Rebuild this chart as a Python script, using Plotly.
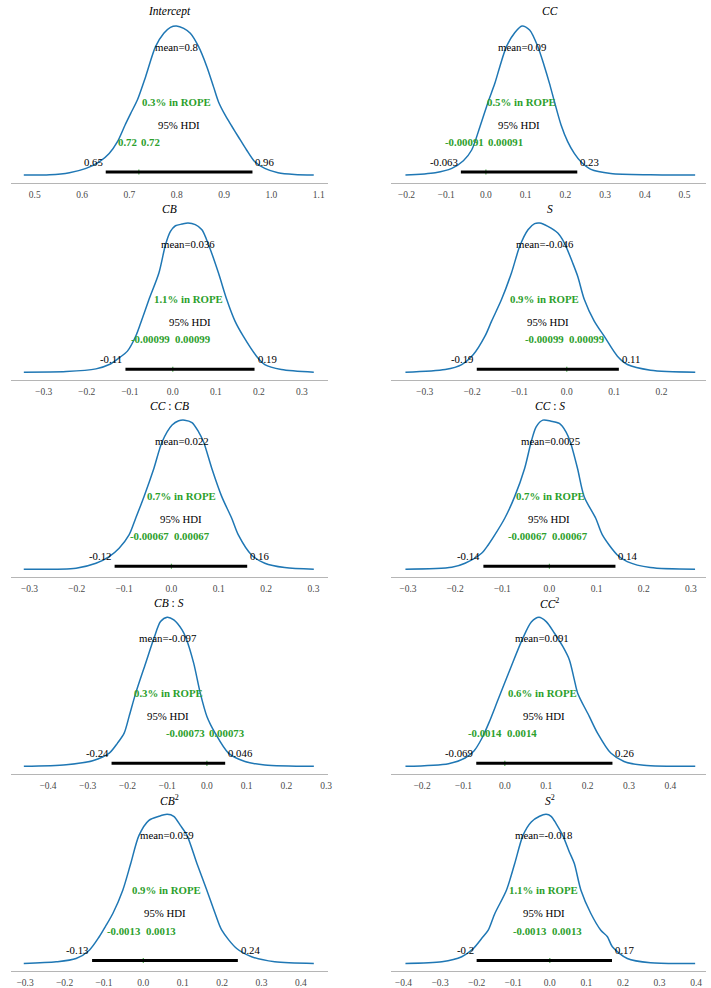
import plotly.graph_objects as go

# ---------------- data ----------------
titles = ["<i>Intercept</i>", "<i>CC</i>", "<i>CB</i>", "<i>S</i>",
          "<i>CC</i> : <i>CB</i>", "<i>CC</i> : <i>S</i>", "<i>CB</i> : <i>S</i>",
          "<i>CC</i><sup>2</sup>", "<i>CB</i><sup>2</sup>", "<i>S</i><sup>2</sup>"]

means = [0.8, 0.09, 0.036, -0.046, 0.022, 0.0025, -0.097, 0.091, 0.059, -0.018]
rope_pct = [0.3, 0.5, 1.1, 0.9, 0.7, 0.7, 0.3, 0.6, 0.9, 1.1]
rope_lo = [0.72, -0.00091, -0.00099, -0.00099, -0.00067, -0.00067, -0.00073, -0.0014, -0.0013, -0.0013]
rope_hi = [0.72, 0.00091, 0.00099, 0.00099, 0.00067, 0.00067, 0.00073, 0.0014, 0.0013, 0.0013]
hdi_lo = [0.65, -0.063, -0.11, -0.19, -0.12, -0.14, -0.24, -0.069, -0.13, -0.2]
hdi_hi = [0.96, 0.23, 0.19, 0.11, 0.16, 0.14, 0.046, 0.26, 0.24, 0.17]

# posterior density curves (relative density, peak = 1)
intercept_x = [0.4769, 0.5315, 0.5734, 0.6084, 0.6364, 0.6573, 0.6748, 0.6909, 0.7028, 0.7168, 0.7343,
               0.7552, 0.7727, 0.7867, 0.7993, 0.8147, 0.8287, 0.8462, 0.8636, 0.8776, 0.8881, 0.9021,
               0.9161, 0.9301, 0.9476, 0.9650, 0.9860, 1.0140, 1.0490, 1.0895]
intercept_d = [0, 0.002, 0.016, 0.045, 0.089, 0.145, 0.224, 0.336, 0.414, 0.503, 0.660,
               0.861, 0.951, 0.991, 1.0, 0.984, 0.951, 0.861, 0.727, 0.593, 0.492, 0.403,
               0.329, 0.257, 0.168, 0.089, 0.045, 0.016, 0.004, 0]

cc_x = [-0.2025, -0.1275, -0.0858, -0.0567, -0.0358, -0.015, 0.0058, 0.0225, 0.035, 0.0517, 0.0725,
        0.0908, 0.11, 0.1308, 0.1475, 0.16, 0.1725, 0.1892, 0.2058, 0.2225, 0.2392, 0.2642, 0.3142,
        0.4142, 0.5267]
cc_d = [0, 0.016, 0.045, 0.096, 0.168, 0.324, 0.492, 0.615, 0.727, 0.861, 0.955,
        1.0, 0.973, 0.861, 0.727, 0.615, 0.492, 0.336, 0.224, 0.145, 0.089, 0.038, 0.011,
        0.002, 0]

cb_x = [-0.3462, -0.2477, -0.1785, -0.1477, -0.1246, -0.1054, -0.0862, -0.0746, -0.0554, -0.0323,
        -0.0169, -0.0054, 0.0062, 0.0215, 0.0354, 0.0523, 0.0677, 0.0831, 0.1062, 0.1254, 0.1446,
        0.1638, 0.1946, 0.2138, 0.2523, 0.3277]
cb_d = [0, 0.004, 0.022, 0.051, 0.096, 0.141, 0.241, 0.330, 0.487, 0.665,
        0.855, 0.944, 0.982, 0.993, 1.0, 0.989, 0.955, 0.855, 0.665, 0.487, 0.342,
        0.241, 0.107, 0.051, 0.018, 0]

s_x = [-0.3406, -0.2566, -0.2217, -0.1972, -0.1727, -0.1587, -0.1378, -0.1168, -0.0993, -0.0818,
       -0.0678, -0.0573, -0.0399, -0.0189, -0.0049, 0.0126, 0.0231, 0.0371, 0.058, 0.079, 0.107,
       0.128, 0.1769, 0.2713]
s_d = [0, 0.018, 0.051, 0.118, 0.241, 0.342, 0.487, 0.665, 0.844, 0.955,
       0.996, 1.0, 0.978, 0.933, 0.866, 0.732, 0.643, 0.487, 0.342, 0.241, 0.107,
       0.051, 0.013, 0]

cc_cb_x = [-0.3119, -0.2014, -0.1594, -0.1315, -0.1105, -0.0895, -0.0755, -0.058, -0.0371, -0.0196,
           0.0014, 0.0154, 0.028, 0.0434, 0.0573, 0.0678, 0.0853, 0.1063, 0.1273, 0.1413, 0.1692,
           0.1972, 0.2392, 0.3007]
cc_cb_d = [0, 0.007, 0.040, 0.085, 0.141, 0.230, 0.342, 0.487, 0.676, 0.855,
           0.967, 0.996, 1.0, 0.984, 0.922, 0.855, 0.676, 0.487, 0.342, 0.230, 0.096,
           0.040, 0.011, 0]

cc_s_x = [-0.3053, -0.207, -0.1789, -0.1439, -0.1298, -0.1158, -0.0947, -0.0737, -0.0526, -0.0386,
          -0.0281, -0.014, 0.0035, 0.0211, 0.0351, 0.0442, 0.0596, 0.0737, 0.0982, 0.1123, 0.1439,
          0.1649, 0.214, 0.3088]
cc_s_d = [0, 0.013, 0.040, 0.107, 0.163, 0.230, 0.342, 0.487, 0.676, 0.855,
          0.955, 1.0, 0.993, 0.978, 0.922, 0.855, 0.676, 0.487, 0.342, 0.230, 0.096,
          0.051, 0.011, 0]

cb_s_x = [-0.4608, -0.3542, -0.2875, -0.2458, -0.225, -0.2083, -0.1958, -0.1792, -0.1542, -0.1333,
          -0.1167, -0.1, -0.0833, -0.0625, -0.0525, -0.0333, -0.0167, 0.0, 0.0208, 0.0542, 0.0958,
          0.1458, 0.2692]
cb_s_d = [0, 0.011, 0.038, 0.089, 0.156, 0.223, 0.335, 0.491, 0.692, 0.859,
          0.971, 1.0, 0.982, 0.915, 0.859, 0.692, 0.491, 0.335, 0.223, 0.089, 0.033,
          0.009, 0]

cc2_x = [-0.24, -0.136, -0.096, -0.074, -0.056, -0.038, -0.016, 0.014, 0.042, 0.064,
         0.0824, 0.1, 0.12, 0.14, 0.156, 0.168, 0.176, 0.204, 0.224, 0.256, 0.288, 0.336, 0.46]
cc2_d = [0, 0.018, 0.056, 0.105, 0.185, 0.295, 0.450, 0.660, 0.850, 0.968,
         1.0, 0.971, 0.893, 0.804, 0.714, 0.580, 0.491, 0.335, 0.223, 0.089, 0.033, 0.007, 0]

cb2_x = [-0.3034, -0.221, -0.1706, -0.137, -0.1118, -0.0966, -0.0773, -0.0521, -0.0319, -0.0109,
         0.0143, 0.0395, 0.0605, 0.0773, 0.0941, 0.1109, 0.1361, 0.1613, 0.1824, 0.1992, 0.237,
         0.2748, 0.3336, 0.4328]
cb2_d = [0, 0.011, 0.033, 0.089, 0.179, 0.246, 0.335, 0.491, 0.670, 0.859,
         0.960, 0.987, 1.0, 0.987, 0.926, 0.859, 0.670, 0.491, 0.335, 0.223, 0.1,
         0.045, 0.011, 0]

s2_x = [-0.3946, -0.295, -0.2407, -0.209, -0.1864, -0.1683, -0.1502, -0.1186, -0.0959, -0.0733,
        -0.0507, -0.0281, -0.01, 0.0036, 0.0172, 0.0353, 0.0534, 0.067, 0.0851, 0.1122, 0.1394,
        0.1575, 0.171, 0.2118, 0.2751, 0.3973]
s2_d = [0, 0.011, 0.045, 0.1, 0.167, 0.223, 0.335, 0.491, 0.670, 0.859,
        0.949, 0.987, 1.0, 0.987, 0.938, 0.859, 0.748, 0.670, 0.491, 0.335, 0.223,
        0.179, 0.112, 0.033, 0.004, 0]

curves_x = [intercept_x, cc_x, cb_x, s_x, cc_cb_x, cc_s_x, cb_s_x, cc2_x, cb2_x, s2_x]
curves_d = [intercept_d, cc_d, cb_d, s_d, cc_cb_d, cc_s_d, cb_s_d, cc2_d, cb2_d, s2_d]

# visible x-window of each panel
x_lo = [0.4497, -0.2383, -0.3762, -0.3706, -0.339, -0.3354, -0.4933, -0.2744, -0.336, -0.4335]
x_hi = [1.1189, 0.554, 0.36, 0.294, 0.330, 0.332, 0.304, 0.486, 0.468, 0.427]

# ---------------- figure ----------------
W, H = 711, 988
BLUE = "#1f77b4"
GREEN = "#2ca02c"
FONT = "Liberation Serif, Times New Roman, Times, serif"
fs = 10.8

fig = go.Figure()
layout = dict(
    width=W, height=H, margin=dict(l=0, r=0, t=0, b=0),
    paper_bgcolor="white", plot_bgcolor="white", showlegend=False,
    font=dict(family=FONT, size=fs, color="black"),
)
annotations = []

col_px = [(11, 330), (394, 713)]
for i in range(10):
    r, c = divmod(i, 2)
    n = "" if i == 0 else str(i + 1)
    xa, ya = "x" + n, "y" + n
    top = 18.5 + 197.1 * r
    bot = 182.5 + 197.1 * r
    x0, x1 = col_px[c]
    layout["xaxis" + n] = dict(
        domain=[x0 / W, min(x1 / W, 1.0)], anchor=ya, range=[x_lo[i], x_hi[i]],
        dtick=0.1, tick0=0, tickformat=".1f", showgrid=False, zeroline=False,
        showline=True, linecolor="#b5b5b5", linewidth=1, ticks="", ticklabelstandoff=3,
        tickfont=dict(family=FONT, size=9.5, color="#4a4a4a"),
    )
    layout["yaxis" + n] = dict(
        domain=[1 - bot / H, 1 - top / H], anchor=xa, range=[-0.05, 1.05],
        visible=False, showgrid=False, zeroline=False,
    )
    # density curve
    fig.add_trace(go.Scatter(x=curves_x[i], y=curves_d[i], mode="lines",
                             line=dict(color=BLUE, width=1.5, shape="spline", smoothing=0.8),
                             xaxis=xa, yaxis=ya, hoverinfo="skip"))
    # ROPE marker
    rm = (rope_lo[i] + rope_hi[i]) / 2
    fig.add_trace(go.Scatter(x=[rm, rm], y=[0.003, 0.037], mode="lines",
                             line=dict(color="rgba(44,160,44,0.8)", width=1.2),
                             xaxis=xa, yaxis=ya, hoverinfo="skip"))
    # HDI bar
    fig.add_trace(go.Scatter(x=[hdi_lo[i], hdi_hi[i]], y=[0.02, 0.02], mode="lines",
                             line=dict(color="black", width=3),
                             xaxis=xa, yaxis=ya, hoverinfo="skip"))
    # title
    annotations.append(dict(xref="paper", yref="paper", x=((x0 + x1) / 2) / W, y=1 - top / H,
                            text=titles[i], showarrow=False, xanchor="center", yanchor="middle",
                            yshift=7, font=dict(family=FONT, size=11.5, color="black")))
    # mean
    annotations.append(dict(xref=xa, yref=ya, x=means[i], y=0.86, text=f"mean={means[i]:.2g}",
                            showarrow=False, xanchor="center", yanchor="middle"))
    # ROPE percentage
    annotations.append(dict(xref=xa, yref=ya, x=means[i], y=0.49,
                            text=f"<b>{rope_pct[i]:.1f}% in ROPE</b>",
                            showarrow=False, xanchor="center", yanchor="middle",
                            font=dict(family=FONT, size=fs, color=GREEN)))
    # HDI label
    annotations.append(dict(xref=xa, yref=ya, x=(hdi_lo[i] + hdi_hi[i]) / 2, y=0.336,
                            text="95% HDI", showarrow=False, xanchor="center", yanchor="middle"))
    # ROPE bounds
    annotations.append(dict(xref=xa, yref=ya, x=rope_lo[i], y=0.221, text=f"<b>{rope_lo[i]:.2g}</b>",
                            showarrow=False, xanchor="right", yanchor="middle",
                            font=dict(family=FONT, size=fs, color=GREEN)))
    annotations.append(dict(xref=xa, yref=ya, x=rope_hi[i], y=0.221, text=f"<b>{rope_hi[i]:.2g}</b>",
                            showarrow=False, xanchor="left", yanchor="middle",
                            font=dict(family=FONT, size=fs, color=GREEN)))
    # HDI bounds
    annotations.append(dict(xref=xa, yref=ya, x=hdi_lo[i], y=0.087, text=f"{hdi_lo[i]:.2g}",
                            showarrow=False, xanchor="right", yanchor="middle", xshift=-1))
    annotations.append(dict(xref=xa, yref=ya, x=hdi_hi[i], y=0.087, text=f"{hdi_hi[i]:.2g}",
                            showarrow=False, xanchor="left", yanchor="middle", xshift=1))

layout["annotations"] = annotations
fig.update_layout(**layout)
fig.write_html("out.html", config={"displayModeBar": False},
               post_script="document.body.style.margin='0';document.body.style.overflow='hidden';")
